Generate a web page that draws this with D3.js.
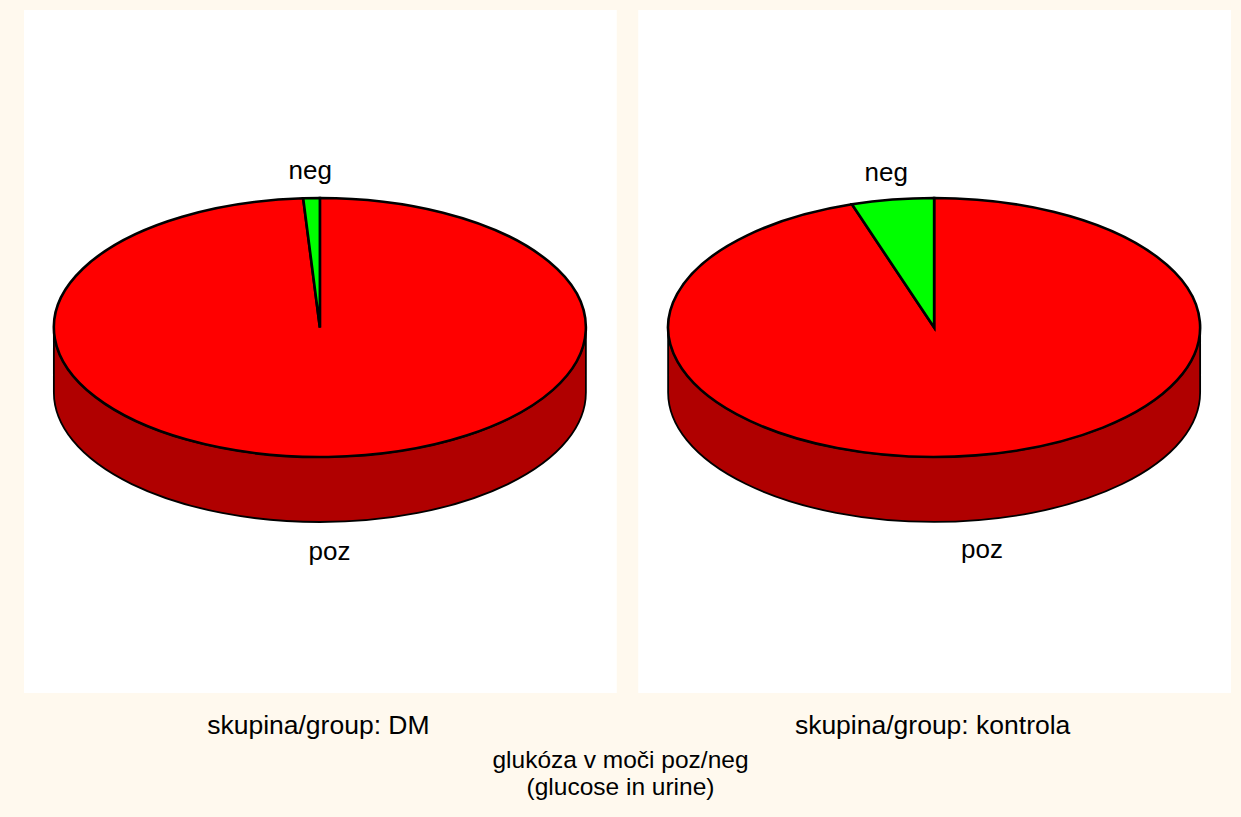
<!DOCTYPE html>
<html>
<head>
<meta charset="utf-8">
<script src="https://cdn.jsdelivr.net/npm/d3@7"></script>
<style>
  body { margin: 0; background: #FFF9EE; }
  svg text { font-family: "Liberation Sans", Arial, sans-serif; fill: #000; }
</style>
</head>
<body>
<svg id="chart" width="1241" height="817"></svg>
<script>
// data
const groups = ["DM", "kontrola"];
const categories = ["poz", "neg"];
const pozValues = [99, 95];
const negValues = [1, 5];
const groupLabels = ["skupina/group: DM", "skupina/group: kontrola"];
const titleLines = ["glukóza v moči poz/neg", "(glucose in urine)"];

const topColor = d3.scaleOrdinal().domain(categories).range(["#FF0000", "#00FF00"]);
const sideColor = d3.scaleOrdinal().domain(categories).range(["#B00000", "#00B000"]);

const svg = d3.select("#chart");
svg.append("rect")
    .attr("width", 1241)
    .attr("height", 817)
    .attr("fill", "#FFF9EE");

const x = d3.scaleBand()
    .domain(groups)
    .range([24, 1231])
    .paddingInner(0.035);

const panelTop = 10, panelH = 683;
const cy = 327.5, rx = 266, ry = 129.5, depth = 65;

const pie = d3.pie().sort(null).value(d => d.value);

// point on the top (or bottom) ellipse, angle clockwise from 12 o'clock
const pt = (cx, a, dy = 0) => [cx + rx * Math.sin(a), cy - ry * Math.cos(a) + dy];

groups.forEach((g, i) => {
  const data = categories.map((c, j) => ({ cat: c, value: j === 0 ? pozValues[i] : negValues[i] }));
  const arcs = pie(data);
  const cx = x(g) + x.bandwidth() / 2 - 0.5;

  const panel = svg.append("g");
  panel.append("rect")
      .attr("x", x(g))
      .attr("y", panelTop)
      .attr("width", x.bandwidth())
      .attr("height", panelH)
      .attr("fill", "#fff");

  // side walls (front half only)
  arcs.forEach(d => {
    const a0 = Math.max(d.startAngle, Math.PI / 2);
    const a1 = Math.min(d.endAngle, 3 * Math.PI / 2);
    if (a1 <= a0) return;
    const p0 = pt(cx, a0), p1 = pt(cx, a1);
    const q0 = pt(cx, a0, depth), q1 = pt(cx, a1, depth);
    const path = `M${p0}A${rx},${ry} 0 0 1 ${p1}L${q1}A${rx},${ry} 0 0 0 ${q0}Z`;
    panel.append("path")
        .attr("d", path)
        .attr("fill", sideColor(d.data.cat))
        .attr("stroke", "#000")
        .attr("stroke-width", 1.8);
  });

  // top slices
  arcs.forEach(d => {
    const p0 = pt(cx, d.startAngle), p1 = pt(cx, d.endAngle);
    const large = d.endAngle - d.startAngle > Math.PI ? 1 : 0;
    panel.append("path")
        .attr("d", `M${cx},${cy}L${p0}A${rx},${ry} 0 ${large} 1 ${p1}Z`)
        .attr("fill", topColor(d.data.cat))
        .attr("stroke", "#000")
        .attr("stroke-width", 2.6);
  });

  // slice labels
  arcs.forEach(d => {
    const mid = (d.startAngle + d.endAngle) / 2;
    const c = Math.cos(mid);
    panel.append("text")
        .attr("x", cx + rx * 1.15 * Math.sin(mid))
        .attr("y", cy - ry * 1.2 * c + (c < 0 ? depth + 5 : 0))
        .attr("text-anchor", "middle")
        .attr("dominant-baseline", "middle")
        .attr("font-size", 26)
        .text(d.data.cat);
  });

  svg.append("text")
      .attr("x", x(g) + x.bandwidth() / 2 - 2)
      .attr("y", 727)
      .attr("text-anchor", "middle")
      .attr("dominant-baseline", "middle")
      .attr("font-size", 26.5)
      .text(groupLabels[i]);
});

svg.append("g")
  .selectAll("text")
  .data(titleLines)
  .join("text")
    .attr("x", 620.5)
    .attr("y", (d, i) => 762 + i * 27)
    .attr("text-anchor", "middle")
    .attr("dominant-baseline", "middle")
    .attr("font-size", 24.5)
    .text(d => d);
</script>
</body>
</html>
